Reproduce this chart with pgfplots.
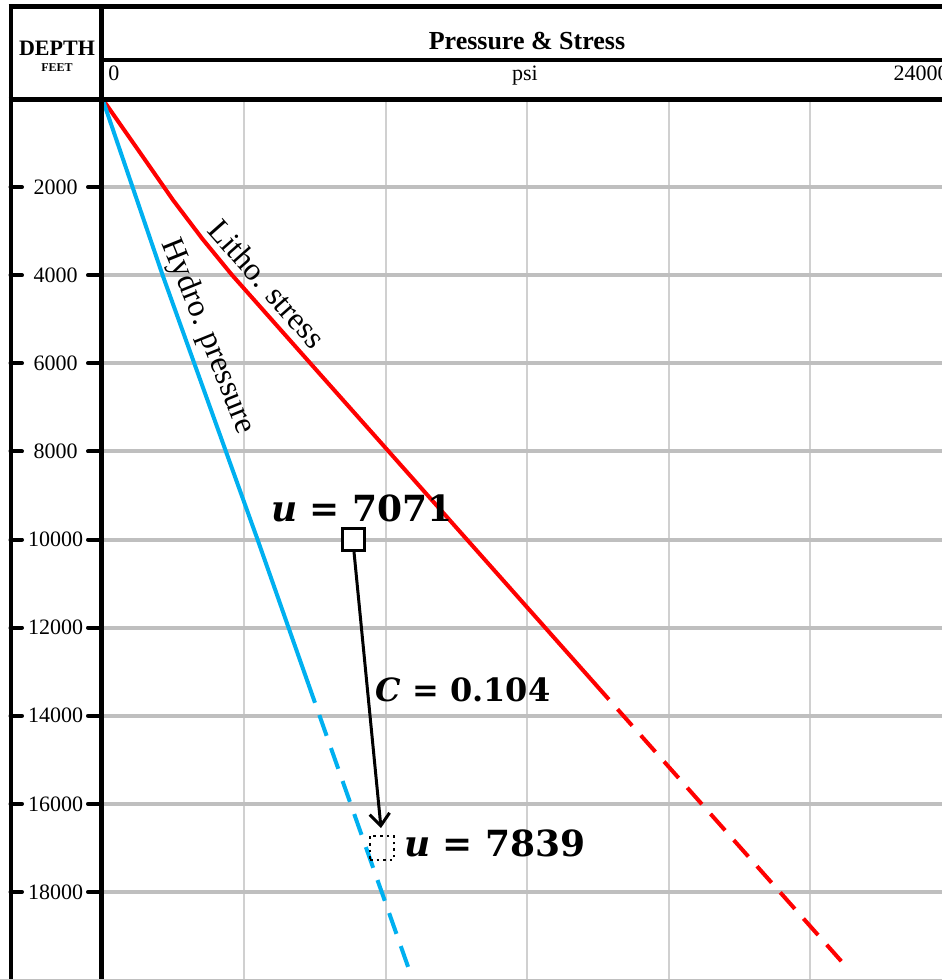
\documentclass[border=0pt]{standalone}
\usepackage{fontspec}
\setmainfont{Liberation Serif}
\newfontfamily\mathlab{DejaVu Serif}
\usepackage{pgfplots}
\pgfplotsset{compat=1.18}
\usetikzlibrary{arrows.meta}
\definecolor{litho}{HTML}{FF0000}
\definecolor{hydro}{HTML}{00B0F0}
\definecolor{hgrid}{HTML}{BFBFBF}
\definecolor{vgrid}{HTML}{D0D0D0}
\begin{document}
\begin{tikzpicture}[x=0.5pt,y=-0.5pt]
\useasboundingbox (0,0) rectangle (942,980);
\begin{axis}[
  at={(51.25pt,-49.5pt)}, anchor=north west,
  width=424.5pt, height=440.5pt, scale only axis,
  xmin=0, xmax=24000, ymin=0, ymax=20000, y dir=reverse,
  scaled x ticks=false, scaled y ticks=false,
  axis line style={draw=none},
  xtick={4000,8000,12000,16000,20000}, xticklabels={},
  ytick={2000,4000,...,18000}, yticklabels={},
  tick style={draw=none},
  xmajorgrids, ymajorgrids,
  major x grid style={vgrid, line width=1pt},
  major y grid style={hgrid, line width=2pt},
  clip=false,
]
% Lithostatic stress
\addplot[litho, line width=2pt, line cap=round, line join=round] coordinates {(0,0) (989,1135) (1993,2293) (2827,3178) (3661,3995) (5894,6016) (8105,8014) (12523,12009) (13903,13258)};
\addplot[litho, line width=2pt, dash pattern=on 11pt off 6.5pt] coordinates {(13903,13258) (20905,19591)};
% Hydrostatic pressure
\addplot[hydro, line width=2pt, line cap=round, line join=round] coordinates {(0,0) (1700,4000) (4383,10000) (5800,13235)};
\addplot[hydro, line width=2pt, dash pattern=on 11pt off 6.5pt] coordinates {(5800,13235) (8690,19818)};
% arrow
\draw[line width=1.5pt, -{Straight Barb[length=6pt,width=10pt]}] (axis cs:7110,10284) -- (axis cs:7873,16550);
% markers
\addplot[only marks, mark=square*, mark size=5.5pt, mark options={fill=white, draw=black, line width=1.5pt}] coordinates {(7100,10000)};
\addplot[only marks, mark=square, mark size=6pt, mark options={draw=black, line width=1.3pt, dotted}] coordinates {(7900,17000)};
% labels
\node[rotate=-48.5, font=\fontsize{16}{18}\selectfont, xshift=2pt, yshift=2pt] at (axis cs:4495,4188) {Litho. stress};
\node[rotate=-68, font=\fontsize{16}{18}\selectfont, xshift=2.3pt, yshift=0.9pt] at (axis cs:2869,5312) {Hydro. pressure};
\node[font=\mathlab\bfseries\fontsize{18}{20}\selectfont] at (axis cs:7336,9285) {{\itshape u} = 7071};
\node[font=\mathlab\bfseries\fontsize{16}{20}\selectfont] at (axis cs:10190,13416) {{\itshape C} = 0.104};
\node[font=\mathlab\bfseries\fontsize{18}{20}\selectfont] at (axis cs:11095,16890) {{\itshape u} = 7839};
\end{axis}
% frame
\draw[line width=2.5pt] (8.5,6) -- (942,6);
\draw[line width=2pt] (10.5,4) -- (10.5,980);
\draw[line width=2.5pt] (101,4) -- (101,980);
\draw[line width=2pt] (101,59.5) -- (942,59.5);
\draw[line width=2.5pt] (8.5,99) -- (942,99);
\draw[gray!50, line width=0.5pt] (0,979.5) -- (942,979.5);
\foreach \i in {1,...,9} {
  \pgfmathsetmacro\yy{99+88.1*\i}
  \draw[line width=2pt, line cap=round] (10.5,\yy) -- (22,\yy);
  \draw[line width=2pt, line cap=round] (88,\yy) -- (101,\yy);
  \node[font=\fontsize{11}{13}\selectfont] at (55.5,\yy) {\the\numexpr 2000*\i\relax};
}
% header text
\node[font=\bfseries\fontsize{11}{13}\selectfont, anchor=base] at (57,55) {DEPTH};
\node[font=\bfseries\fontsize{6}{7}\selectfont, anchor=base] at (57,71) {FEET};
\node[font=\bfseries\fontsize{13}{15}\selectfont, anchor=base] at (527,49.5) {Pressure \& Stress};
\node[font=\fontsize{11}{13}\selectfont, anchor=base west, inner sep=0pt] at (108,80) {0};
\node[font=\fontsize{11}{13}\selectfont, anchor=base, inner sep=0pt] at (525,80) {psi};
\node[font=\fontsize{11}{13}\selectfont, anchor=base east, inner sep=0pt] at (949,80) {24000};
\end{tikzpicture}
\end{document}
